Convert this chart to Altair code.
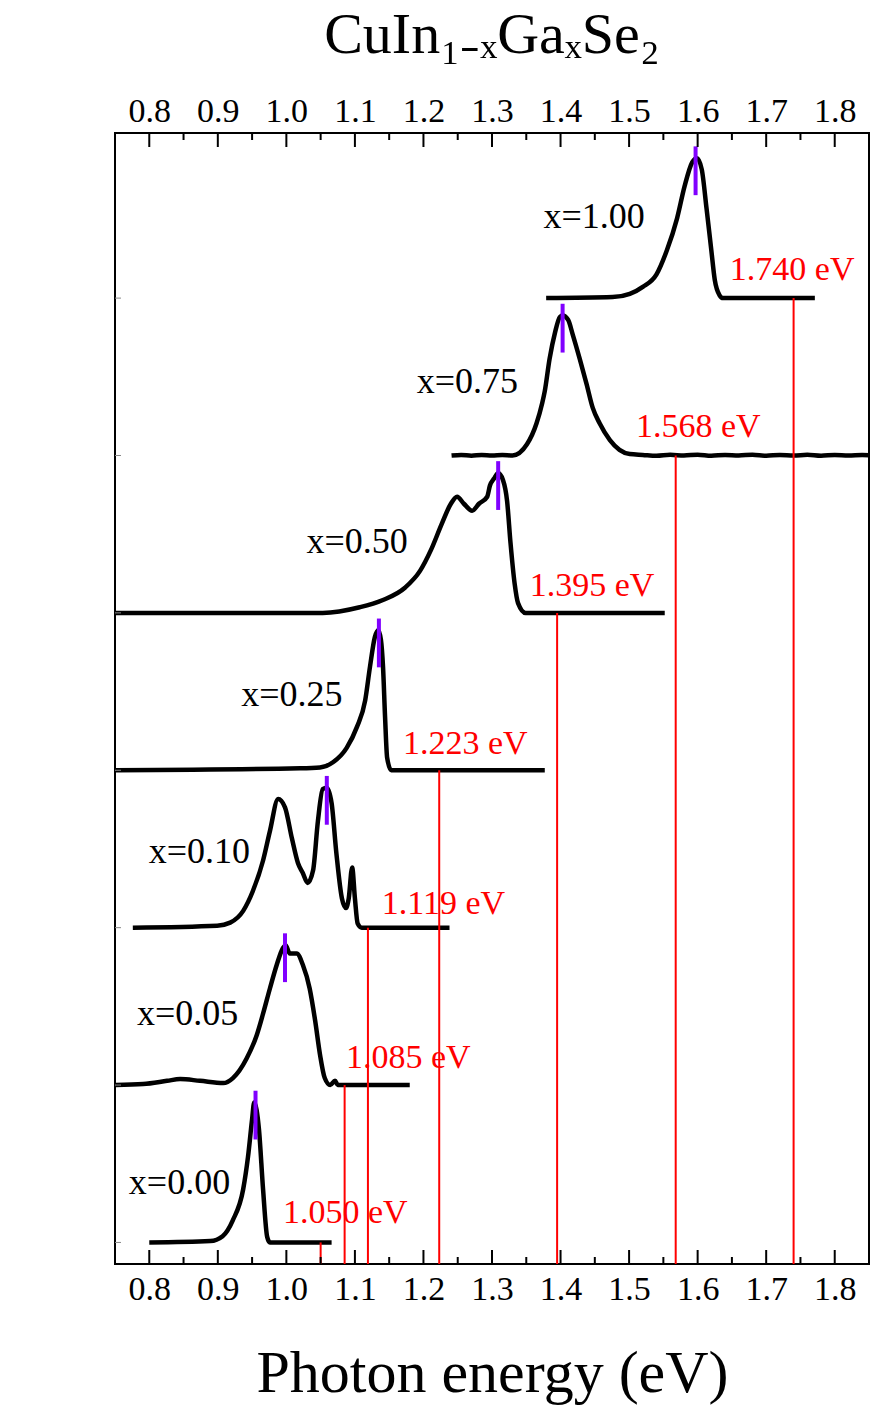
import altair as alt
import pandas as pd

# ---- data ----
compositions = ["x=0.00", "x=0.05", "x=0.10", "x=0.25", "x=0.50", "x=0.75", "x=1.00"]

E0 = [0.800, 0.889, 0.907, 0.922, 0.937, 0.944, 0.950, 0.953, 0.960, 0.966, 0.972, 0.976, 1.066]
I0 = [0.0, 0.01, 0.045, 0.16, 0.38, 0.61, 0.88, 1.0, 0.81, 0.38, 0.04, 0.0, 0.0]

E1 = [0.751, 0.791, 0.826, 0.845, 0.874, 0.908, 0.922, 0.942, 0.957, 0.966, 0.976, 0.986, 0.995,
      0.999, 1.005, 1.015, 1.024, 1.034, 1.042, 1.049, 1.056, 1.064, 1.071, 1.075, 1.180]
I1 = [0.0, 0.007, 0.03, 0.043, 0.03, 0.014, 0.05, 0.19, 0.36, 0.51, 0.69, 0.86, 0.98,
      1.0, 0.94, 0.94, 0.86, 0.69, 0.46, 0.22, 0.05, 0.0, 0.03, 0.0, 0.0]

E2 = [0.776, 0.899, 0.918, 0.937, 0.951, 0.966, 0.976, 0.988, 0.998, 1.008, 1.017, 1.024, 1.031,
      1.039, 1.046, 1.053, 1.059, 1.066, 1.073, 1.081, 1.087, 1.091, 1.096, 1.100, 1.104, 1.110, 1.238]
I2 = [0.0, 0.014, 0.036, 0.12, 0.26, 0.48, 0.69, 0.92, 0.86, 0.64, 0.46, 0.39, 0.32,
      0.41, 0.76, 0.99, 1.0, 0.89, 0.53, 0.21, 0.14, 0.21, 0.43, 0.21, 0.03, 0.0, 0.0]

E3 = [0.750, 1.020, 1.049, 1.068, 1.088, 1.103, 1.115, 1.122, 1.129, 1.134, 1.138, 1.141, 1.144,
      1.147, 1.153, 1.377]
I3 = [0.0, 0.014, 0.02, 0.057, 0.16, 0.31, 0.5, 0.74, 0.95, 1.0, 0.93, 0.74, 0.38,
      0.09, 0.0, 0.0]

E4 = [0.750, 0.891, 1.053, 1.107, 1.140, 1.173, 1.195, 1.211, 1.227, 1.240, 1.249, 1.259, 1.271,
      1.281, 1.293, 1.297, 1.303, 1.309, 1.316, 1.322, 1.327, 1.333, 1.338, 1.349, 1.552]
I4 = [0.0, 0.0, 0.0, 0.04, 0.09, 0.18, 0.30, 0.45, 0.64, 0.78, 0.83, 0.78, 0.73,
      0.78, 0.83, 0.91, 0.96, 1.0, 0.95, 0.80, 0.50, 0.21, 0.07, 0.0, 0.0]

E5 = [1.241, 1.255, 1.270, 1.285, 1.300, 1.315, 1.330, 1.351, 1.365, 1.373, 1.377, 1.384, 1.392,
      1.399, 1.403, 1.411, 1.418, 1.428, 1.438, 1.447, 1.457, 1.472, 1.486, 1.501,
      1.520, 1.540, 1.560, 1.580, 1.600, 1.620, 1.640, 1.660, 1.680, 1.700, 1.720, 1.740,
      1.760, 1.780, 1.800, 1.820, 1.840, 1.852]
I5 = [0.0, 0.004, -0.002, 0.004, 0.0, 0.004, 0.0, 0.08, 0.23, 0.37, 0.46, 0.69, 0.88,
      0.99, 1.0, 0.97, 0.86, 0.69, 0.51, 0.34, 0.23, 0.11, 0.04, 0.01,
      0.004, -0.002, 0.005, 0.0, 0.006, -0.002, 0.004, 0.0, 0.006, -0.002, 0.004, 0.0,
      0.005, -0.002, 0.004, 0.0, 0.004, 0.0]

E6 = [1.379, 1.476, 1.501, 1.520, 1.540, 1.555, 1.570, 1.581, 1.592, 1.599, 1.606, 1.613, 1.620,
      1.625, 1.632, 1.637, 1.771]
I6 = [0.0, 0.007, 0.03, 0.08, 0.17, 0.34, 0.57, 0.80, 0.97, 1.0, 0.92, 0.64, 0.34,
      0.13, 0.02, 0.0, 0.0]

peak_E = [0.955, 0.998, 1.059, 1.135, 1.309, 1.403, 1.597]
gap_E = [1.050, 1.085, 1.119, 1.223, 1.395, 1.568, 1.740]

label_E = [0.918, 0.930, 0.947, 1.082, 1.177, 1.338, 1.523]
label_dy = [0.38, 0.45, 0.48, 0.48, 0.45, 0.47, 0.515]
gap_label_E = [0.995, 1.087, 1.139, 1.170, 1.355, 1.510, 1.647]
gap_label_dy = [0.19, 0.17, 0.15, 0.17, 0.17, 0.18, 0.18]

major_ticks = [0.8, 0.9, 1.0, 1.1, 1.2, 1.3, 1.4, 1.5, 1.6, 1.7, 1.8]
minor_ticks = [0.85, 0.95, 1.05, 1.15, 1.25, 1.35, 1.45, 1.55, 1.65, 1.75]

# ---- build tables ----
curves = [(E0, I0), (E1, I1), (E2, I2), (E3, I3), (E4, I4), (E5, I5), (E6, I6)]
AMP = 0.889
YMIN, YMAX = -0.137, 7.049
W, H = 754, 1131
FONT = "Liberation Serif"

rows = []
for i, (E, I) in enumerate(curves):
    for e, v in zip(E, I):
        rows.append({"s": compositions[i], "E": e, "y": i + AMP * v})
df_curves = pd.DataFrame(rows)

df_gap = pd.DataFrame({
    "E": gap_E,
    "base": list(range(7)),
    "bot": [YMIN] * 7,
    "lx": gap_label_E,
    "ly": [i + d for i, d in enumerate(gap_label_dy)],
    "txt": [f"{g:.3f} eV" for g in gap_E],
})
df_peak = pd.DataFrame({
    "E": peak_E,
    "top": [i + AMP + 0.075 for i in range(7)],
    "bot": [i + AMP - 0.235 for i in range(7)],
})
df_lab = pd.DataFrame({
    "E": label_E,
    "y": [i + d for i, d in enumerate(label_dy)],
    "txt": compositions,
})
df_major = pd.DataFrame({"E": major_ticks})
df_minor = pd.DataFrame({"E": minor_ticks})
df_base = pd.DataFrame({"y": list(range(7))})

xscale = alt.Scale(domain=[0.75, 1.85], nice=False, zero=False)
yscale = alt.Scale(domain=[YMIN, YMAX], nice=False, zero=False)


def xq(field):
    return alt.X(field, type="quantitative", scale=xscale, axis=None)


def yq(field):
    return alt.Y(field, type="quantitative", scale=yscale, axis=None)


x_bottom = alt.X("E:Q", scale=xscale,
                 axis=alt.Axis(orient="bottom", values=major_ticks, format=".1f", ticks=False,
                               domain=False, grid=False, labelFontSize=34, labelPadding=8,
                               labelColor="black", title="Photon energy (eV)", titleFontSize=60,
                               titleFontWeight="normal", titlePadding=38, titleColor="black"))
y_left = alt.Y("y:Q", scale=yscale,
               axis=alt.Axis(labels=False, ticks=False, domain=False, grid=False,
                             title="PL intensity (a.u.)", titleFontSize=60,
                             titleFontWeight="normal", titlePadding=48, titleColor="black"))

curves_layer = alt.Chart(df_curves).mark_line(
    color="black", strokeWidth=4.5, interpolate="monotone", clip=True
).encode(x=x_bottom, y=y_left, detail="s:N", order="E:Q")

top_axis_layer = alt.Chart(df_major).mark_rule(color="black", strokeWidth=2).encode(
    x=alt.X("E:Q", scale=xscale,
            axis=alt.Axis(orient="top", values=major_ticks, format=".1f", ticks=False,
                          domain=False, grid=False, labelFontSize=34, labelPadding=5,
                          labelColor="black", title="")),
    y=alt.value(0), y2=alt.value(14))
bottom_major = alt.Chart(df_major).mark_rule(color="black", strokeWidth=2).encode(
    x=xq("E"), y=alt.value(H), y2=alt.value(H - 14))
top_minor = alt.Chart(df_minor).mark_rule(color="black", strokeWidth=2).encode(
    x=xq("E"), y=alt.value(0), y2=alt.value(7))
bottom_minor = alt.Chart(df_minor).mark_rule(color="black", strokeWidth=2).encode(
    x=xq("E"), y=alt.value(H), y2=alt.value(H - 7))
left_ticks = alt.Chart(df_base).mark_rule(color="#888888", strokeWidth=1).encode(
    y=yq("y"), x=alt.value(0), x2=alt.value(6))

red_lines = alt.Chart(df_gap).mark_rule(color="red", strokeWidth=2).encode(
    x=xq("E"), y=yq("base"), y2="bot:Q")
red_text = alt.Chart(df_gap).mark_text(
    color="red", font=FONT, fontSize=34, align="left", baseline="middle"
).encode(x=xq("lx"), y=yq("ly"), text="txt:N")

peak_marks = alt.Chart(df_peak).mark_rule(color="#8000FF", strokeWidth=4).encode(
    x=xq("E"), y=yq("top"), y2="bot:Q")

labels = alt.Chart(df_lab).mark_text(
    color="black", font=FONT, fontSize=36, align="right", baseline="middle"
).encode(x=xq("E"), y=yq("y"), text="txt:N")

chart = alt.layer(
    curves_layer, red_lines, peak_marks, labels, red_text,
    top_axis_layer, bottom_major, top_minor, bottom_minor, left_ticks
).properties(
    width=W, height=H,
    title=alt.TitleParams(text="CuIn\u2081\u208b\u2093Ga\u2093Se\u2082", font=FONT, fontSize=58,
                          fontWeight="normal", color="black", anchor="middle", offset=29),
    autosize=alt.AutoSizeParams(type="none"),
    padding={"left": 115, "top": 133, "right": 2, "bottom": 143},
).configure(
    font=FONT,
).configure_axis(
    labelFont=FONT, titleFont=FONT, grid=False
).configure_view(
    stroke="black", strokeWidth=2
)

chart.save("out.html", embed_options={"renderer": "svg", "actions": False})
